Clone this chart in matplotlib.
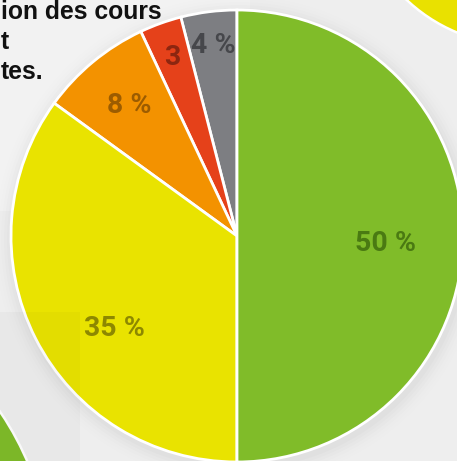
import matplotlib
matplotlib.use('Agg')
import matplotlib.pyplot as plt
from matplotlib.patches import Circle, Rectangle
import numpy as np

# pie data, counter-clockwise from 12 o'clock
shares = [4, 3, 8, 35, 50]
labels = ['4 %', '3', '8 %', '35 %', '50 %']
colors = ['#7D7E82', '#E5411A', '#F39200', '#E9E300', '#80BC29']
label_colors = ['#46474B', '#8C2610', '#9C5C00', '#8D8800', '#4A7A12']
label_radius = [0.85, 0.84, 0.75, 0.68, 0.66]
label_shift = [0, 0, 0, 10, -3]

title_lines = ['ion des cours', 't', 'tes.']

W, H = 457, 461
fig = plt.figure(figsize=(W / 100, H / 100), dpi=100)
fig.patch.set_facecolor('#EEEEEE')
ax = fig.add_axes([0, 0, 1, 1])

# background decoration
ax.add_patch(Rectangle((0, 250), 250, 211, facecolor='#F2F2F2', edgecolor='none', zorder=0))
ax.add_patch(Circle((520, 581), 165, facecolor='#E9E100', edgecolor='white', lw=1.8, zorder=1))
ax.add_patch(Circle((-250, -120), 302, facecolor='#80BC29', edgecolor='white', lw=1.8, zorder=1))

cx, cy, r = 237, 225, 226
for i, a in enumerate(np.linspace(0.06, 0.01, 6)):
    ax.add_patch(Circle((cx + 2, cy - 4), r + 3 + i * 3, facecolor='black', alpha=a * 0.25,
                        edgecolor='none', zorder=1))

wedges, _ = ax.pie(shares, colors=colors, startangle=90, counterclock=True,
                   center=(cx, cy), radius=r, frame=True,
                   wedgeprops=dict(edgecolor='white', linewidth=2, zorder=2))
ax.set_xlim(0, W)
ax.set_ylim(0, H)
ax.set_aspect('auto')
ax.axis('off')

for w, lab, col, rad, sh in zip(wedges, labels, label_colors, label_radius, label_shift):
    ang = np.deg2rad((w.theta1 + w.theta2) / 2 + sh)
    ax.text(cx + rad * r * np.cos(ang), cy + rad * r * np.sin(ang), lab,
            ha='center', va='center', fontsize=20.5, fontweight='bold',
            family='Roboto', color=col, zorder=4)

# translucent box bottom-left
ax.add_patch(Rectangle((0, 0), 80, 149, facecolor='black', alpha=0.025, edgecolor='none', zorder=3))

for i, line in enumerate(title_lines):
    ax.text(1, H - 12 - i * 30, line, ha='left', va='center', fontsize=17.8,
            fontweight='bold', family='Liberation Sans', color='#111111', zorder=5)

plt.savefig('out.png', dpi=100, facecolor=fig.get_facecolor())
plt.close()
